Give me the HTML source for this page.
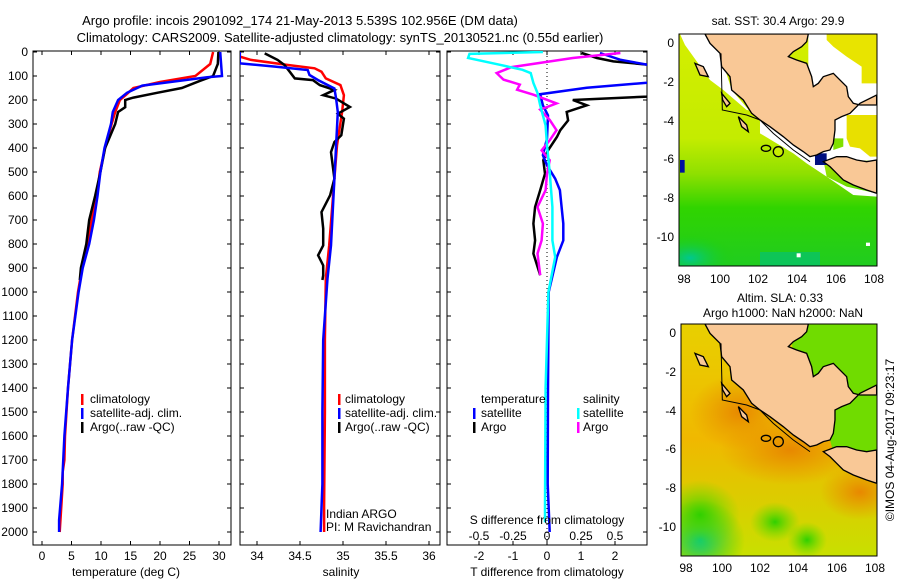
<!DOCTYPE html>
<html><head><meta charset="utf-8"><style>
html,body{margin:0;padding:0;background:#fff;}
svg text{font-family:"Liberation Sans",sans-serif;fill:#000;}
</style></head><body>
<svg id="fig" width="900" height="580" viewBox="0 0 900 580" xmlns="http://www.w3.org/2000/svg">
<defs>
<clipPath id="c1"><rect x="33" y="51" width="198" height="494"/></clipPath>
<clipPath id="c2"><rect x="240" y="51" width="200" height="494"/></clipPath>
<clipPath id="c3"><rect x="447" y="51" width="200" height="494"/></clipPath>
<clipPath id="m1"><rect x="679" y="34" width="198" height="232"/></clipPath>
<clipPath id="m2"><rect x="681" y="324" width="196" height="232"/></clipPath>
<linearGradient id="sstg" x1="0" y1="0" x2="0" y2="1">
<stop offset="0" stop-color="#d4ee00"/><stop offset="0.45" stop-color="#c4ec00"/><stop offset="0.6" stop-color="#90e000"/><stop offset="0.75" stop-color="#30d400"/><stop offset="1" stop-color="#20cc20"/></linearGradient>
<linearGradient id="slag" x1="0" y1="0" x2="0" y2="1">
<stop offset="0" stop-color="#e8d000"/><stop offset="0.5" stop-color="#f0b800"/><stop offset="1" stop-color="#c8e000"/></linearGradient>
<radialGradient id="org"><stop offset="0" stop-color="#e88800"/><stop offset="1" stop-color="#e89000" stop-opacity="0"/></radialGradient>
<radialGradient id="grn"><stop offset="0" stop-color="#30d000"/><stop offset="1" stop-color="#60dc00" stop-opacity="0"/></radialGradient>
<radialGradient id="teal"><stop offset="0" stop-color="#00c890"/><stop offset="1" stop-color="#20d000" stop-opacity="0"/></radialGradient>
</defs>

<text x="300" y="25" font-size="13" text-anchor="middle">Argo profile: incois 2901092_174 21-May-2013 5.539S 102.956E (DM data)</text>
<text x="340" y="42" font-size="13" text-anchor="middle">Climatology: CARS2009. Satellite-adjusted climatology: synTS_20130521.nc (0.55d earlier)</text>

<g id="yl" font-size="12" text-anchor="end"></g>

<rect x="33" y="51" width="198" height="494" fill="none" stroke="#000"/>
<rect x="240" y="51" width="200" height="494" fill="none" stroke="#000"/>
<rect x="447" y="51" width="200" height="494" fill="none" stroke="#000"/>
<g id="ticks" stroke="#000" stroke-width="1"></g>
<line x1="547" y1="52" x2="547" y2="545" stroke="#000" stroke-dasharray="1,3"/>
<g id="g1" clip-path="url(#c1)" fill="none" stroke-width="2.5"></g>
<g id="g2" clip-path="url(#c2)" fill="none" stroke-width="2.5"></g>
<g id="g3" clip-path="url(#c3)" fill="none" stroke-width="2.5"></g>
<g id="xl" font-size="12" text-anchor="middle"></g>
<text x="126" y="576" font-size="12" text-anchor="middle">temperature (deg C)</text>
<text x="341" y="576" font-size="12" text-anchor="middle">salinity</text>
<text x="547" y="576" font-size="12" text-anchor="middle">T difference from climatology</text>
<text x="547" y="524" font-size="12" text-anchor="middle">S difference from climatology</text>
<text x="326" y="518" font-size="12">Indian ARGO</text>
<text x="326" y="531" font-size="12">PI: M Ravichandran</text>

<g font-size="12">
<rect x="81" y="394" width="2.5" height="11" fill="#f00"/><text x="90" y="403">climatology</text>
<rect x="81" y="408" width="2.5" height="11" fill="#00f"/><text x="90" y="417">satellite-adj. clim.</text>
<rect x="81" y="422" width="2.5" height="11" fill="#000"/><text x="90" y="431">Argo(..raw -QC)</text>
</g>
<g font-size="12">
<rect x="338" y="394" width="2.5" height="11" fill="#f00"/><text x="345" y="403">climatology</text>
<rect x="338" y="408" width="2.5" height="11" fill="#00f"/><text x="345" y="417">satellite-adj. clim.</text>
<rect x="338" y="422" width="2.5" height="11" fill="#000"/><text x="345" y="431">Argo(..raw -QC)</text>
</g>
<g font-size="12">
<text x="481" y="403">temperature</text><text x="583" y="403">salinity</text>
<rect x="473" y="408" width="2.5" height="11" fill="#00f"/><text x="481" y="417">satellite</text>
<rect x="473" y="422" width="2.5" height="11" fill="#000"/><text x="481" y="431">Argo</text>
<rect x="577" y="408" width="2.5" height="11" fill="#0ff"/><text x="583" y="417">satellite</text>
<rect x="577" y="422" width="2.5" height="11" fill="#f0f"/><text x="583" y="431">Argo</text>
</g>

<!-- SST map -->
<text x="778" y="25" font-size="12" text-anchor="middle">sat. SST: 30.4 Argo: 29.9</text>
<g clip-path="url(#m1)">
<rect x="679" y="34" width="198" height="232" fill="url(#sstg)"/>
<ellipse cx="690" cy="258" rx="45" ry="25" fill="url(#teal)"/>
<rect x="760" y="252" width="60" height="14" fill="#00c080" opacity="0.6"/>
<g transform="translate(660,20) scale(0.3333)">
<polygon fill="#fff" points="60,42 135,42 180,100 215,210 275,280 330,320 400,375 450,410 490,420 500,470 560,500 650,520 650,530 580,525 500,470 470,450 440,430 400,400 300,340 300,275 260,270 190,210 150,180 100,110 75,75"/>
<rect x="445" y="42" width="205" height="380" fill="#fff"/>
<polygon fill="#e8e400" points="500,42 650,42 650,190 605,190 605,140 560,110 520,80 500,60"/>
<polygon fill="#e8e000" points="560,285 650,285 650,410 630,410 600,385 570,380 560,355"/>
<polygon fill="#80e000" points="520,355 550,355 550,380 520,390"/>
<rect x="465" y="400" width="35" height="35" fill="#001080"/>
<rect x="60" y="420" width="14" height="38" fill="#0010a0"/>
<rect x="410" y="700" width="12" height="12" fill="#fff"/><rect x="618" y="668" width="12" height="10" fill="#fff"/>
<polygon fill="#f9c896" stroke="#000" stroke-width="4" points="135,42 150,70 180,100 185,140 210,170 215,210 250,240 275,280 300,300 330,320 370,350 400,375 430,395 450,410 470,405 490,395 510,390 520,370 525,330 525,300 545,290 570,280 600,250 650,225 650,255 600,255 580,250 565,230 560,200 530,170 520,160 490,170 475,190 460,200 455,170 440,130 410,120 385,110 400,95 425,80 440,65 445,42"/>
<polygon fill="#f9c896" stroke="#000" stroke-width="4" points="490,425 510,440 530,460 550,480 580,495 620,510 650,520 650,420 620,425 590,420 560,410 530,410"/>
<polygon fill="#f9c896" stroke="#000" stroke-width="4" points="105,130 130,140 145,170 120,165"/>
<polygon fill="#f9c896" stroke="#000" stroke-width="4" points="185,220 210,250 200,260 188,240"/>
<polygon fill="#f9c896" stroke="#000" stroke-width="4" points="235,290 260,315 265,335 245,320"/>
<polyline fill="none" stroke="#000" stroke-width="3" points="183,100 187,270 260,285 300,300 340,340 400,390 450,425"/>
<ellipse cx="318" cy="385" rx="14" ry="9" fill="none" stroke="#000" stroke-width="4"/>
<circle cx="355" cy="395" r="15" fill="#c8ec00" stroke="#000" stroke-width="4"/>
</g>
</g>
<rect x="679" y="34" width="198" height="232" fill="none" stroke="#000"/>
<g font-size="12">
<g text-anchor="end"><text x="674" y="47">0</text><text x="674" y="86">-2</text><text x="674" y="125">-4</text><text x="674" y="163">-6</text><text x="674" y="202">-8</text><text x="674" y="241">-10</text></g>
<g text-anchor="middle"><text x="684" y="283">98</text><text x="720" y="283">100</text><text x="758" y="283">102</text><text x="797" y="283">104</text><text x="836" y="283">106</text><text x="874" y="283">108</text></g>
</g>

<!-- SLA map -->
<text x="780" y="302" font-size="12" text-anchor="middle">Altim. SLA: 0.33</text>
<text x="783" y="317" font-size="12" text-anchor="middle">Argo h1000: NaN h2000: NaN</text>
<g clip-path="url(#m2)">
<rect x="681" y="324" width="196" height="232" fill="url(#slag)"/>
<ellipse cx="740" cy="412" rx="50" ry="38" fill="url(#org)"/>
<ellipse cx="790" cy="450" rx="70" ry="35" fill="url(#org)"/>
<ellipse cx="860" cy="492" rx="40" ry="28" fill="url(#org)"/>
<ellipse cx="700" cy="540" rx="45" ry="40" fill="url(#teal)"/>
<ellipse cx="700" cy="515" rx="40" ry="35" fill="url(#grn)"/>
<ellipse cx="775" cy="522" rx="25" ry="20" fill="url(#grn)"/>
<ellipse cx="807" cy="540" rx="20" ry="18" fill="url(#grn)"/>
<polygon fill="#70dc00" points="790,324 877,324 877,458 835,458 830,440 800,420"/>
<g transform="translate(660,310) scale(0.3333)">
<polygon fill="#f9c896" stroke="#000" stroke-width="4" points="135,42 150,70 180,100 185,140 210,170 215,210 250,240 275,280 300,300 330,320 370,350 400,375 430,395 450,410 470,405 490,395 510,390 520,370 525,330 525,300 545,290 570,280 600,250 650,225 650,255 600,255 580,250 565,230 560,200 530,170 520,160 490,170 475,190 460,200 455,170 440,130 410,120 385,110 400,95 425,80 440,65 445,42"/>
<polygon fill="#f9c896" stroke="#000" stroke-width="4" points="490,425 510,440 530,460 550,480 580,495 620,510 650,520 650,420 620,425 590,420 560,410 530,410"/>
<polygon fill="#f9c896" stroke="#000" stroke-width="4" points="105,130 130,140 145,170 120,165"/>
<polygon fill="#f9c896" stroke="#000" stroke-width="4" points="185,220 210,250 200,260 188,240"/>
<polygon fill="#f9c896" stroke="#000" stroke-width="4" points="235,290 260,315 265,335 245,320"/>
<polyline fill="none" stroke="#000" stroke-width="3" points="183,100 187,270 260,285 300,300 340,340 400,390 450,425"/>
<ellipse cx="318" cy="385" rx="14" ry="9" fill="none" stroke="#000" stroke-width="4"/>
<circle cx="355" cy="395" r="15" fill="none" stroke="#000" stroke-width="4"/>
</g>
</g>
<rect x="681" y="324" width="196" height="232" fill="none" stroke="#000"/>
<g font-size="12">
<g text-anchor="end"><text x="676" y="337">0</text><text x="676" y="376">-2</text><text x="676" y="415">-4</text><text x="676" y="453">-6</text><text x="676" y="492">-8</text><text x="676" y="531">-10</text></g>
<g text-anchor="middle"><text x="686" y="572">98</text><text x="722" y="572">100</text><text x="760" y="572">102</text><text x="798" y="572">104</text><text x="837" y="572">106</text><text x="875" y="572">108</text></g>
</g>
<text font-size="12" text-anchor="middle" transform="translate(894,440) rotate(-90)">©IMOS 04-Aug-2017 09:23:17</text>
</svg>
<script>
const depthTicks = [0,100,200,300,400,500,600,700,800,900,1000,1100,1200,1300,1400,1500,1600,1700,1800,1900,2000];
const tempTicks = [0,5,10,15,20,25,30];
const salTicks = [34,34.5,35,35.5,36];
const tdiffTicks = [-2,-1,0,1,2];
const sdiffTicks = [-0.5,-0.25,0,0.25,0.5];
// temperature profiles
const dTclim = [0,50,100,125,150,175,200,250,300,400,500,600,700,800,900,1000,1200,1400,1600,1700,1750,1800,2000];
const tClim = [29.0,28.5,26,20,15.5,14.4,13.2,12.4,11.8,10.7,9.8,9.3,8.4,7.8,6.8,6.1,5.1,4.4,3.9,3.8,3.5,3.5,3.0];
const dTsat = [0,100,105,120,140,170,200,250,300,400,500,600,700,800,900,1000,1200,1400,1600,1800,1950,2000];
const tSat = [30.2,30.5,28,23.4,17,14.4,12.9,12,11.7,10.6,9.9,9.4,8.8,8.0,6.9,6.2,5.1,4.4,3.8,3.4,2.9,2.9];
const dTargo = [0,50,100,120,150,170,190,200,230,250,300,400,500,600,700,800,900,950];
const tArgo = [29.9,29.8,29,26.8,23.7,19.5,15.5,14.1,14.1,12.9,12.4,10.7,9.9,9.0,8.0,7.5,6.6,6.4];
// salinity profiles
const dSclim = [0,19,33,54,68,82,110,138,180,250,389,528,667,806,944,1200,1500,1896,2000];
const sClim = [33.80,33.80,33.93,34.36,34.67,34.75,34.80,34.97,35.01,34.99,34.93,34.90,34.87,34.84,34.80,34.79,34.79,34.78,34.78];
const dSsat = [0,47,61,75,96,117,152,194,250,389,528,667,806,944,1200,1500,1800,2000];
const sSat = [33.8,33.8,34.21,34.59,34.61,34.71,34.90,34.92,34.94,34.92,34.90,34.88,34.86,34.82,34.77,34.76,34.76,34.74];
const dSargo = [6,33,54,82,110,117,138,158,180,194,229,257,278,347,375,417,528,597,667,736,806,847,889,931,950];
const sArgo = [34.09,34.24,34.32,34.38,34.44,34.65,34.73,34.90,34.77,34.92,35.08,34.94,35.01,34.98,34.90,34.86,34.90,34.85,34.75,34.77,34.77,34.71,34.77,34.77,34.76];
// difference profiles
const dDTargo = [4,25,39,60,100,186,200,222,250,285,326,354,410,451,507,576,646,715,785,840,930];
const dtArgo = [1.02,1.47,1.95,3.5,3.5,2.94,0.76,1.17,0.58,0.62,0.39,0.29,0.03,-0.11,-0.06,-0.2,-0.35,-0.4,-0.35,-0.4,-0.2];
const dDTsat = [4,32,53,90,128,149,176,222,264,361,430,472,528,576,646,715,785,854,1000,1400,1800,2000];
const dtSat = [1.56,2.15,2.94,3.5,2.94,1.17,-0.2,-0.12,0.03,0,-0.12,0,0.24,0.38,0.43,0.48,0.48,0.29,0.05,0.03,0.02,0.08];
const dDSsat = [0,8,25,53,74,88,129,171,222,306,389,500,646,785,854,1000,1400,1900,1960];
const dsSat = [-0.03,-0.57,-0.58,-0.35,-0.18,-0.12,-0.10,-0.07,-0.05,-0.01,0,0.02,0.04,0.04,0.06,0.01,-0.01,-0.015,-0.015];
const dDSargo = [4,25,63,88,115,136,157,178,214,240,283,326,368,410,451,507,576,646,715,785,840,930];
const dsArgo = [0.54,0.19,-0.26,-0.37,-0.32,-0.20,-0.22,-0.10,0.07,-0.05,0.02,0.07,0.02,-0.04,0.02,0,-0.01,-0.07,-0.03,-0.04,-0.07,-0.05];

const yD = d => 52 + d*0.24;
const xT = v => 42 + v*5.9;
const xS = v => 257 + (v-34)*86;
const xdT = v => 547 + v*34;
const xdS = v => 547 + v*136;
const NS = 'http://www.w3.org/2000/svg';

function line(g, depths, vals, xf, color, name){
  const p = document.createElementNS(NS,'polyline');
  p.setAttribute('points', depths.map((d,i)=>xf(vals[i]).toFixed(1)+','+yD(d).toFixed(1)).join(' '));
  p.setAttribute('stroke', color);
  
  
  document.getElementById(g).appendChild(p);
}
line('g1', dTclim, tClim, xT, '#f00', 'temp-climatology-line');
line('g1', dTargo, tArgo, xT, '#000', 'temp-argo-line');
line('g1', dTsat, tSat, xT, '#00f', 'temp-satellite-line');
line('g2', dSclim, sClim, xS, '#f00', 'sal-climatology-line');
line('g2', dSargo, sArgo, xS, '#000', 'sal-argo-line');
line('g2', dSsat, sSat, xS, '#00f', 'sal-satellite-line');
line('g3', dDTargo, dtArgo, xdT, '#000', 'tdiff-argo-line');
line('g3', dDTsat, dtSat, xdT, '#00f', 'tdiff-satellite-line');
line('g3', dDSargo, dsArgo, xdS, '#f0f', 'sdiff-argo-line');
line('g3', dDSsat, dsSat, xdS, '#0ff', 'sdiff-satellite-line');

const yl = document.getElementById('yl');
const tk = document.getElementById('ticks');
function tick(x1,y1,x2,y2){
  const l = document.createElementNS(NS,'line');
  l.setAttribute('x1',x1);l.setAttribute('y1',y1);l.setAttribute('x2',x2);l.setAttribute('y2',y2);
  tk.appendChild(l);
}
depthTicks.forEach(d=>{
  const t = document.createElementNS(NS,'text');
  t.setAttribute('x', 28); t.setAttribute('y', yD(d)+4);
  t.textContent = d;
  
  
  yl.appendChild(t);
  [[33,231],[240,440],[447,647]].forEach(([a,b])=>{ tick(a,yD(d),a+4,yD(d)); tick(b-4,yD(d),b,yD(d)); });
});
const xl = document.getElementById('xl');
function xlab(v, x, y){
  const t = document.createElementNS(NS,'text');
  t.setAttribute('x', x); t.setAttribute('y', y);
  t.textContent = v;
  
  
  xl.appendChild(t);
}
tempTicks.forEach(v=>{ xlab(v, xT(v), 560); tick(xT(v),51,xT(v),55); tick(xT(v),541,xT(v),545); });
salTicks.forEach(v=>{ xlab(v, xS(v), 560); tick(xS(v),51,xS(v),55); tick(xS(v),541,xS(v),545); });
tdiffTicks.forEach(v=>{ xlab(v, xdT(v), 560); tick(xdT(v),541,xdT(v),545); });
sdiffTicks.forEach(v=>{ xlab(v, xdS(v), 540); tick(xdS(v),51,xdS(v),55); });
</script>
</body></html>
